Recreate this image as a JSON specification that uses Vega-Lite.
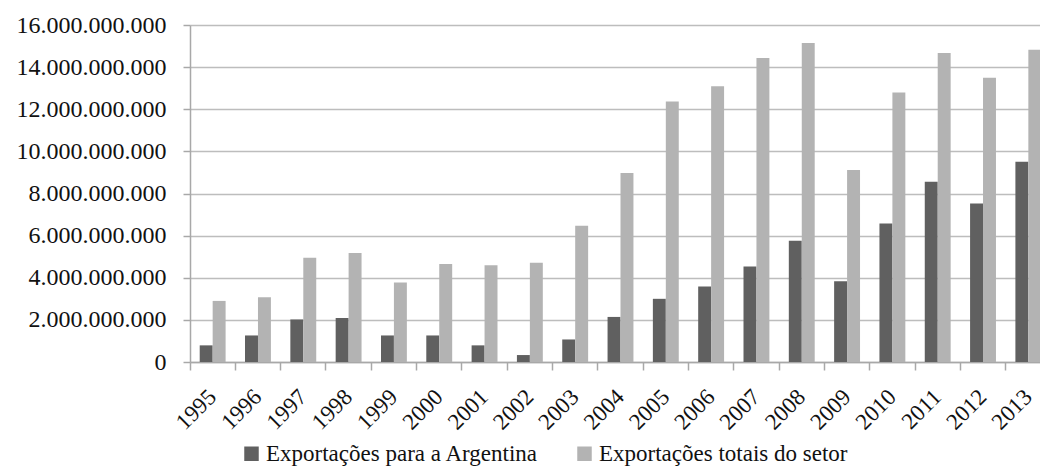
{
  "$schema": "https://vega.github.io/schema/vega-lite/v6.json",
  "width": 850,
  "height": 337,
  "autosize": {"type": "none"},
  "padding": {"left": 190, "top": 25, "right": 0, "bottom": 105},
  "background": "white",
  "data": {
    "values": [
      {"ano": "1995", "serie": "Exportações para a Argentina", "valor": 790000000},
      {"ano": "1996", "serie": "Exportações para a Argentina", "valor": 1260000000},
      {"ano": "1997", "serie": "Exportações para a Argentina", "valor": 2020000000},
      {"ano": "1998", "serie": "Exportações para a Argentina", "valor": 2090000000},
      {"ano": "1999", "serie": "Exportações para a Argentina", "valor": 1260000000},
      {"ano": "2000", "serie": "Exportações para a Argentina", "valor": 1260000000},
      {"ano": "2001", "serie": "Exportações para a Argentina", "valor": 790000000},
      {"ano": "2002", "serie": "Exportações para a Argentina", "valor": 330000000},
      {"ano": "2003", "serie": "Exportações para a Argentina", "valor": 1070000000},
      {"ano": "2004", "serie": "Exportações para a Argentina", "valor": 2140000000},
      {"ano": "2005", "serie": "Exportações para a Argentina", "valor": 3000000000},
      {"ano": "2006", "serie": "Exportações para a Argentina", "valor": 3590000000},
      {"ano": "2007", "serie": "Exportações para a Argentina", "valor": 4540000000},
      {"ano": "2008", "serie": "Exportações para a Argentina", "valor": 5760000000},
      {"ano": "2009", "serie": "Exportações para a Argentina", "valor": 3830000000},
      {"ano": "2010", "serie": "Exportações para a Argentina", "valor": 6580000000},
      {"ano": "2011", "serie": "Exportações para a Argentina", "valor": 8560000000},
      {"ano": "2012", "serie": "Exportações para a Argentina", "valor": 7520000000},
      {"ano": "2013", "serie": "Exportações para a Argentina", "valor": 9510000000},
      {"ano": "1995", "serie": "Exportações totais do setor", "valor": 2900000000},
      {"ano": "1996", "serie": "Exportações totais do setor", "valor": 3070000000},
      {"ano": "1997", "serie": "Exportações totais do setor", "valor": 4950000000},
      {"ano": "1998", "serie": "Exportações totais do setor", "valor": 5180000000},
      {"ano": "1999", "serie": "Exportações totais do setor", "valor": 3780000000},
      {"ano": "2000", "serie": "Exportações totais do setor", "valor": 4650000000},
      {"ano": "2001", "serie": "Exportações totais do setor", "valor": 4590000000},
      {"ano": "2002", "serie": "Exportações totais do setor", "valor": 4710000000},
      {"ano": "2003", "serie": "Exportações totais do setor", "valor": 6470000000},
      {"ano": "2004", "serie": "Exportações totais do setor", "valor": 8970000000},
      {"ano": "2005", "serie": "Exportações totais do setor", "valor": 12370000000},
      {"ano": "2006", "serie": "Exportações totais do setor", "valor": 13090000000},
      {"ano": "2007", "serie": "Exportações totais do setor", "valor": 14430000000},
      {"ano": "2008", "serie": "Exportações totais do setor", "valor": 15150000000},
      {"ano": "2009", "serie": "Exportações totais do setor", "valor": 9120000000},
      {"ano": "2010", "serie": "Exportações totais do setor", "valor": 12790000000},
      {"ano": "2011", "serie": "Exportações totais do setor", "valor": 14670000000},
      {"ano": "2012", "serie": "Exportações totais do setor", "valor": 13500000000},
      {"ano": "2013", "serie": "Exportações totais do setor", "valor": 14830000000}
    ]
  },
  "mark": {"type": "bar"},
  "encoding": {
    "x": {
      "field": "ano",
      "type": "ordinal",
      "scale": {"range": [0, 861], "paddingInner": 0, "paddingOuter": 0},
      "axis": {
        "title": null,
        "bandPosition": 0,
        "labelAngle": -45,
        "labelAlign": "right",
        "labelBaseline": "middle",
        "labelPadding": 23,
        "labelFontSize": 23,
        "tickSize": 8,
        "grid": false
      }
    },
    "xOffset": {
      "field": "serie",
      "type": "nominal",
      "sort": ["Exportações para a Argentina", "Exportações totais do setor"],
      "scale": {"paddingInner": 0, "paddingOuter": 0.75}
    },
    "y": {
      "field": "valor",
      "type": "quantitative",
      "scale": {"domain": [0, 16000000000], "nice": false},
      "axis": {
        "title": null,
        "values": [0, 2000000000, 4000000000, 6000000000, 8000000000, 10000000000, 12000000000, 14000000000, 16000000000],
        "format": ",d",
        "tickSize": 7,
        "labelPadding": 17,
        "labelFontSize": 24,
        "grid": true
      }
    },
    "color": {
      "field": "serie",
      "type": "nominal",
      "scale": {
        "domain": ["Exportações para a Argentina", "Exportações totais do setor"],
        "range": ["#606060", "#b3b3b3"]
      },
      "legend": {
        "title": null,
        "orient": "none",
        "direction": "horizontal",
        "legendX": 50,
        "legendY": 417,
        "symbolType": "square",
        "symbolSize": 210,
        "symbolStrokeWidth": 0,
        "labelOffset": 3,
        "labelLimit": 0,
        "columnPadding": 34,
        "labelFont": "Liberation Serif",
        "labelFontSize": 23,
        "labelColor": "#111111"
      }
    }
  },
  "config": {
    "locale": {
      "number": {"decimal": ",", "thousands": ".", "grouping": [3], "currency": ["R$", ""]}
    },
    "view": {"stroke": null},
    "axis": {
      "labelFont": "Liberation Serif",
      "labelColor": "#111111",
      "domainColor": "#a8a8a8",
      "domainWidth": 1.5,
      "tickColor": "#a8a8a8",
      "tickWidth": 1.5,
      "gridColor": "#bdbdbd",
      "gridWidth": 1.5
    }
  }
}
